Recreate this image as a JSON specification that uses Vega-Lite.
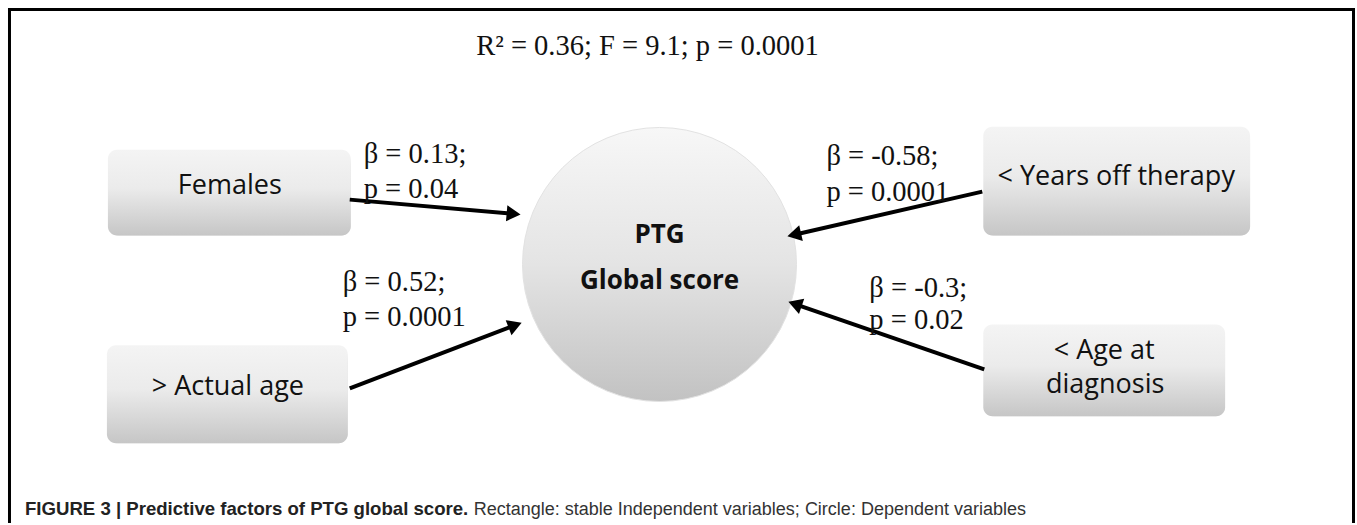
{
  "$schema": "https://vega.github.io/schema/vega-lite/v6.json",
  "width": 1357,
  "height": 525,
  "padding": 0,
  "autosize": {"type": "fit", "contains": "padding"},
  "background": "white",
  "config": {"view": {"stroke": null}},
  "datasets": {
    "frame": [
      {"side": "top", "x": 8, "x2": 1356, "y": 9.5, "y2": 9.5},
      {"side": "left", "x": 9.5, "x2": 9.5, "y": 8, "y2": 524},
      {"side": "right", "x": 1354.5, "x2": 1354.5, "y": 8, "y2": 524}
    ],
    "boxes": [
      {"name": "Females", "x": 108, "x2": 351, "y": 150, "y2": 236},
      {"name": "> Actual age", "x": 107, "x2": 348, "y": 346, "y2": 444},
      {"name": "< Years off therapy", "x": 984, "x2": 1251, "y": 127, "y2": 236},
      {"name": "< Age at diagnosis", "x": 984, "x2": 1226, "y": 325, "y2": 417}
    ],
    "node": [{"name": "PTG Global score", "x": 660, "y": 265}],
    "arrows": [
      {"from": "Females", "sx": 350, "sy": 200, "hx": 514, "hy": 214.3},
      {"from": "> Actual age", "sx": 350, "sy": 389, "hx": 515.5, "hy": 325.8},
      {"from": "< Years off therapy", "sx": 983, "sy": 192, "hx": 794.8, "hy": 235.2},
      {"from": "< Age at diagnosis", "sx": 985, "sy": 370, "hx": 795.6, "hy": 304.6}
    ],
    "boxText": [
      {"text": "Females", "x": 230, "y": 186},
      {"text": "> Actual age", "x": 228, "y": 388},
      {"text": "< Years off therapy", "x": 1117, "y": 177},
      {"text": "< Age at", "x": 1105, "y": 352},
      {"text": "diagnosis", "x": 1106, "y": 386}
    ],
    "nodeText": [
      {"text": "PTG", "x": 660, "y": 235},
      {"text": "Global score", "x": 660, "y": 282}
    ],
    "stats": [
      {"text": "β = 0.13;", "x": 364, "y": 163},
      {"text": "p = 0.04", "x": 364, "y": 198},
      {"text": "β = 0.52;", "x": 343, "y": 292},
      {"text": "p = 0.0001", "x": 343, "y": 327},
      {"text": "β = -0.58;", "x": 827, "y": 165},
      {"text": "p = 0.0001", "x": 827, "y": 201},
      {"text": "β = -0.3;", "x": 870, "y": 298},
      {"text": "p = 0.02", "x": 870, "y": 330}
    ],
    "title": [{"text": "R² = 0.36; F = 9.1; p = 0.0001", "x": 648, "y": 55}],
    "captionBold": [{"text": "FIGURE 3 | Predictive factors of PTG global score.", "x": 25, "y": 516}],
    "captionNormal": [{"text": "Rectangle: stable Independent variables; Circle: Dependent variables", "x": 474, "y": 516}]
  },
  "layer": [
    {
      "data": {"name": "frame"},
      "mark": {"type": "rule", "color": "black", "strokeWidth": 3},
      "encoding": {
        "x": {"field": "x", "type": "quantitative", "scale": {"domain": [0, 1357], "nice": false, "zero": false}, "axis": null},
        "x2": {"field": "x2"},
        "y": {"field": "y", "type": "quantitative", "scale": {"domain": [0, 525], "nice": false, "zero": false, "reverse": true}, "axis": null},
        "y2": {"field": "y2"}
      }
    },
    {
      "data": {"name": "boxes"},
      "mark": {"type": "rect", "fill": "#000000", "opacity": 0.06, "cornerRadius": 10, "xOffset": 2, "yOffset": 6},
      "encoding": {
        "x": {"field": "x", "type": "quantitative"},
        "x2": {"field": "x2"},
        "y": {"field": "y", "type": "quantitative"},
        "y2": {"field": "y2"}
      }
    },
    {
      "data": {"name": "boxes"},
      "mark": {"type": "rect", "fill": "#000000", "opacity": 0.08, "cornerRadius": 9, "xOffset": 1, "yOffset": 3},
      "encoding": {
        "x": {"field": "x", "type": "quantitative"},
        "x2": {"field": "x2"},
        "y": {"field": "y", "type": "quantitative"},
        "y2": {"field": "y2"}
      }
    },
    {
      "data": {"name": "boxes"},
      "mark": {
        "type": "rect",
        "cornerRadius": 9,
        "fill": {
          "gradient": "linear", "x1": 0, "y1": 0, "x2": 0, "y2": 1,
          "stops": [
            {"offset": 0, "color": "#f4f4f4"},
            {"offset": 0.45, "color": "#ebebeb"},
            {"offset": 1, "color": "#c6c6c6"}
          ]
        }
      },
      "encoding": {
        "x": {"field": "x", "type": "quantitative"},
        "x2": {"field": "x2"},
        "y": {"field": "y", "type": "quantitative"},
        "y2": {"field": "y2"}
      }
    },
    {
      "data": {"name": "node"},
      "mark": {
        "type": "point", "shape": "circle", "filled": true, "opacity": 1, "size": 75076,
        "stroke": "#e2e2e2", "strokeWidth": 1,
        "fill": {
          "gradient": "linear", "x1": 0, "y1": 0, "x2": 0, "y2": 1,
          "stops": [
            {"offset": 0, "color": "#f7f7f7"},
            {"offset": 0.5, "color": "#e4e4e4"},
            {"offset": 1, "color": "#c2c2c2"}
          ]
        }
      },
      "encoding": {
        "x": {"field": "x", "type": "quantitative"},
        "y": {"field": "y", "type": "quantitative"}
      }
    },
    {
      "data": {"name": "arrows"},
      "mark": {"type": "rule", "color": "black", "strokeWidth": 4},
      "encoding": {
        "x": {"field": "sx", "type": "quantitative"},
        "y": {"field": "sy", "type": "quantitative"},
        "x2": {"field": "hx"},
        "y2": {"field": "hy"}
      }
    },
    {
      "data": {"name": "arrows"},
      "transform": [{"calculate": "atan2(datum.hy - datum.sy, datum.hx - datum.sx) * 180 / PI", "as": "angle"}],
      "mark": {"type": "point", "shape": "triangle-right", "filled": true, "color": "black", "opacity": 1, "size": 260},
      "encoding": {
        "x": {"field": "hx", "type": "quantitative"},
        "y": {"field": "hy", "type": "quantitative"},
        "angle": {"field": "angle", "type": "quantitative", "scale": null}
      }
    },
    {
      "data": {"name": "boxText"},
      "mark": {"type": "text", "font": "Open Sans", "fontSize": 27, "color": "#111111", "align": "center", "baseline": "middle"},
      "encoding": {
        "x": {"field": "x", "type": "quantitative"},
        "y": {"field": "y", "type": "quantitative"},
        "text": {"field": "text"}
      }
    },
    {
      "data": {"name": "nodeText"},
      "mark": {"type": "text", "font": "Open Sans", "fontWeight": "bold", "fontSize": 26, "color": "#111111", "align": "center", "baseline": "middle"},
      "encoding": {
        "x": {"field": "x", "type": "quantitative"},
        "y": {"field": "y", "type": "quantitative"},
        "text": {"field": "text"}
      }
    },
    {
      "data": {"name": "stats"},
      "mark": {"type": "text", "font": "Liberation Serif", "fontSize": 28.5, "color": "#111111", "align": "left", "baseline": "alphabetic"},
      "encoding": {
        "x": {"field": "x", "type": "quantitative"},
        "y": {"field": "y", "type": "quantitative"},
        "text": {"field": "text"}
      }
    },
    {
      "data": {"name": "title"},
      "mark": {"type": "text", "font": "Liberation Serif", "fontSize": 28.5, "color": "#111111", "align": "center", "baseline": "alphabetic"},
      "encoding": {
        "x": {"field": "x", "type": "quantitative"},
        "y": {"field": "y", "type": "quantitative"},
        "text": {"field": "text"}
      }
    },
    {
      "data": {"name": "captionBold"},
      "mark": {"type": "text", "font": "Liberation Sans", "fontWeight": "bold", "fontSize": 18.6, "color": "#222222", "align": "left", "baseline": "alphabetic"},
      "encoding": {
        "x": {"field": "x", "type": "quantitative"},
        "y": {"field": "y", "type": "quantitative"},
        "text": {"field": "text"}
      }
    },
    {
      "data": {"name": "captionNormal"},
      "mark": {"type": "text", "font": "Liberation Sans", "fontSize": 18, "color": "#333333", "align": "left", "baseline": "alphabetic"},
      "encoding": {
        "x": {"field": "x", "type": "quantitative"},
        "y": {"field": "y", "type": "quantitative"},
        "text": {"field": "text"}
      }
    }
  ]
}
